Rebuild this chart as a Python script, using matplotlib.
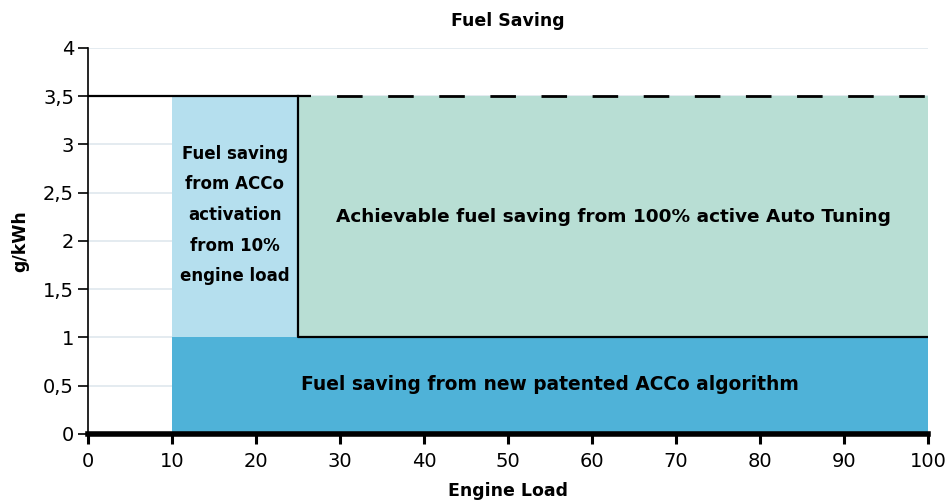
import matplotlib
matplotlib.use("Agg")
import matplotlib.pyplot as plt
from matplotlib.patches import Rectangle

# Data (engine load %, g/kWh)
acco_start = 10        # ACCo activation from 10% load
tuning_start = 25      # auto tuning region starts here
load_max = 100
base_saving = 1.0      # patented ACCo algorithm saving
max_saving = 3.5       # total achievable saving

x_ticks = [0, 10, 20, 30, 40, 50, 60, 70, 80, 90, 100]
y_ticks = [0, 0.5, 1, 1.5, 2, 2.5, 3, 3.5, 4]
y_tick_labels = ["0", "0,5", "1", "1,5", "2", "2,5", "3", "3,5", "4"]

label_acco = "Fuel saving\nfrom ACCo\nactivation\nfrom 10%\nengine load"
label_tuning = "Achievable fuel saving from 100% active Auto Tuning"
label_base = "Fuel saving from new patented ACCo algorithm"

c_light = "#b5dfee"
c_green = "#b8ded4"
c_dark = "#4fb2d8"
bold_font = "DejaVu Sans"

fig = plt.figure(figsize=(9.47, 5.04), dpi=100)
ax = fig.add_axes([0.0929, 0.1389, 0.8871, 0.7659])

ax.set_xlim(0, load_max)
ax.set_ylim(0, 4)

ax.set_yticks(y_ticks)
ax.set_yticklabels(y_tick_labels)
ax.set_xticks(x_ticks)
ax.grid(axis="y", color="#dfe8ee", linewidth=1.2, zorder=0)
ax.set_axisbelow(True)

# filled regions
ax.add_patch(Rectangle((acco_start, 0), load_max - acco_start, base_saving,
                       facecolor=c_dark, edgecolor="none", zorder=1))
ax.add_patch(Rectangle((acco_start, base_saving), tuning_start - acco_start,
                       max_saving - base_saving, facecolor=c_light, edgecolor="none", zorder=1))
ax.add_patch(Rectangle((tuning_start, base_saving), load_max - tuning_start,
                       max_saving - base_saving, facecolor=c_green, edgecolor="none", zorder=1))

# outlines
ax.plot([0, tuning_start + 1.5], [max_saving, max_saving], color="black", lw=1.6,
        solid_capstyle="butt", zorder=3)
ax.plot([tuning_start + 1.5, load_max], [max_saving, max_saving], color="black", lw=2.0,
        linestyle=(9.2, (9.2, 9.2)), zorder=3)
ax.plot([tuning_start, tuning_start, load_max], [max_saving, base_saving, base_saving],
        color="black", lw=1.6, zorder=3)

# labels inside regions
ax.text((acco_start + tuning_start) / 2, 2.27, label_acco, ha="center", va="center",
        fontsize=12, fontweight="bold", family=bold_font, linespacing=1.9, zorder=4)
ax.text((tuning_start + load_max) / 2, 2.25, label_tuning, ha="center", va="center",
        fontsize=13.3, fontweight="bold", family=bold_font, zorder=4)
ax.text((acco_start + load_max) / 2, 0.51, label_base, ha="center", va="center",
        fontsize=13.4, fontweight="bold", family=bold_font, zorder=4)

# spines
for s in ["top", "right"]:
    ax.spines[s].set_visible(False)
ax.spines["left"].set_linewidth(1.2)
ax.spines["bottom"].set_linewidth(4)
ax.spines["bottom"].set_zorder(5)
ax.tick_params(axis="x", length=7, width=2.2, labelsize=14, pad=6)
ax.tick_params(axis="y", length=7, width=1.2, labelsize=14, pad=3)

ax.set_title("Fuel Saving", fontsize=12.5, fontweight="bold", family=bold_font, pad=16)
ax.set_xlabel("Engine Load", fontsize=12.5, fontweight="bold", family=bold_font, labelpad=8)
ax.set_ylabel("g/kWh", fontsize=12.5, fontweight="bold", family=bold_font, labelpad=10)

fig.savefig("out.png", dpi=100)
